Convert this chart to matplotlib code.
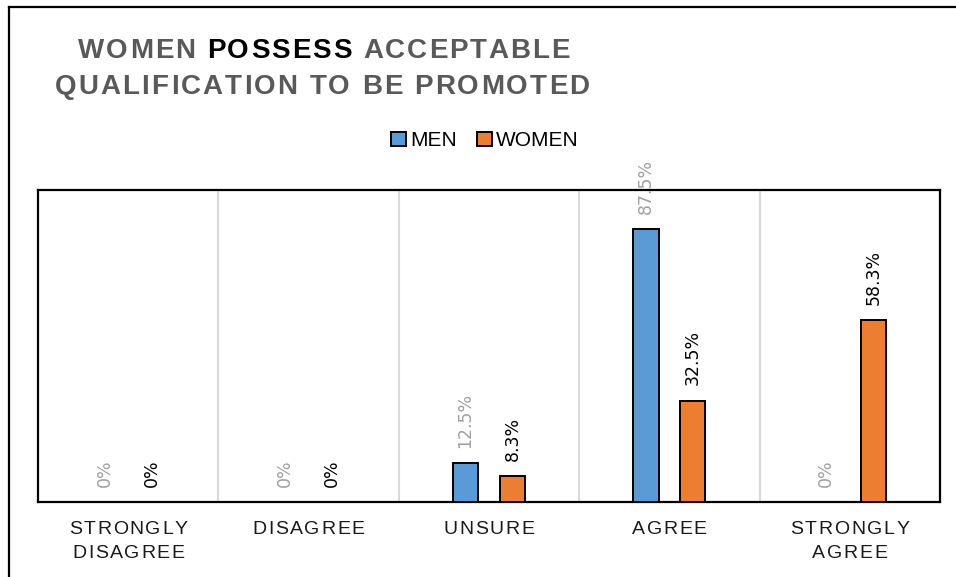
import matplotlib

matplotlib.use("Agg")
import matplotlib.pyplot as plt
import numpy as np
from matplotlib.lines import Line2D
from matplotlib.patches import Patch

CATEGORIES = [["STRONGLY", "DISAGREE"], ["DISAGREE"], ["UNSURE"], ["AGREE"], ["STRONGLY", "AGREE"]]
MEN = [0, 0, 12.5, 87.5, 0]
WOMEN = [0, 0, 8.3, 32.5, 58.3]
MEN_LABELS = ["0%", "0%", "12.5%", "87.5%", "0%"]
WOMEN_LABELS = ["0%", "0%", "8.3%", "32.5%", "58.3%"]

BLUE = "#5B9BD5"
ORANGE = "#ED7D31"
TITLE_GRAY = "#595959"
SANS = ["Liberation Sans", "DejaVu Sans"]

W, H = 956, 577
fig = plt.figure(figsize=(W / 100, H / 100), dpi=100)
renderer = fig.canvas.get_renderer()


def _char_width(ch, **kw):
    if ch == " ":
        return kw["fontsize"] * 0.38
    t = fig.text(0, 0, ch, **kw)
    w = t.get_window_extent(renderer).width
    t.remove()
    return w


def spaced_text(cx, cy, chunks, fontsize, track=None, width=None, **kw):
    """Draw letter-spaced text centred on (cx, cy) in pixels; chunks = [(text, color, weight)]."""
    chars = [(c, col, wt) for txt, col, wt in chunks for c in txt]
    widths = [_char_width(c, fontsize=fontsize, fontweight=wt, **kw) for c, col, wt in chars]
    natural = sum(widths)
    if width is not None:
        track = (width - natural) / (len(chars) - 1)
    total = natural + track * (len(chars) - 1)
    x = cx - total / 2
    for (c, col, wt), w in zip(chars, widths):
        if c != " ":
            fig.text(x / W, 1 - cy / H, c, fontsize=fontsize, fontweight=wt, color=col,
                     ha="left", va="center", **kw)
        x += w + track


# outer frame lines (left and top)
fig.add_artist(Line2D([9 / W, 9 / W], [0, 1 - 7 / H], color="black", lw=1.6))
fig.add_artist(Line2D([9 / W, 1], [1 - 7 / H, 1 - 7 / H], color="black", lw=1.6))

# title
spaced_text(324, 51, [("WOMEN ", TITLE_GRAY, "bold"), ("POSSESS", "black", "bold"),
                      (" ACCEPTABLE", TITLE_GRAY, "bold")],
            fontsize=20, width=492, family=SANS)
spaced_text(322, 87, [("QUALIFICATION TO BE PROMOTED", TITLE_GRAY, "bold")],
            fontsize=20, width=535, family=SANS)

ax = fig.add_axes([38 / W, 1 - 502 / H, 902 / W, 312 / H])
x = np.arange(len(MEN))
off, bw = 0.13, 0.14
ax.bar(x - off, MEN, bw, color=BLUE, edgecolor="black", lw=1.4, zorder=3)
ax.bar(x + off, WOMEN, bw, color=ORANGE, edgecolor="black", lw=1.4, zorder=3)

for xi, v, lab in zip(x, MEN, MEN_LABELS):
    ax.annotate(lab, (xi - off, v), xytext=(0, 11), textcoords="offset points",
                rotation=90, ha="center", va="bottom", fontsize=12.5, color="#A0A0A0",
                annotation_clip=False, zorder=4)
for xi, v, lab in zip(x, WOMEN, WOMEN_LABELS):
    ax.annotate(lab, (xi + off, v), xytext=(0, 11), textcoords="offset points",
                rotation=90, ha="center", va="bottom", fontsize=12.5, color="black",
                annotation_clip=False, zorder=4)

ax.set_xlim(-0.5, len(MEN) - 0.5)
ax.set_ylim(0, 100)
for b in np.arange(0.5, len(MEN) - 0.5):
    ax.axvline(b, color="#D9D9D9", lw=1.5, zorder=1)
ax.set_xticks([])
ax.set_yticks([])
for s in ax.spines.values():
    s.set_color("black")
    s.set_linewidth(1.6)

# category labels
for i, lines in enumerate(CATEGORIES):
    cx = 38 + (i + 0.5) * 902 / len(MEN)
    for j, line in enumerate(lines):
        spaced_text(cx, 529 + j * 24, [(line, "#1a1a1a", "normal")], fontsize=14,
                    track=1.6, family=SANS)

handles = [Patch(facecolor=BLUE, edgecolor="black", lw=1.4, label="MEN"),
           Patch(facecolor=ORANGE, edgecolor="black", lw=1.4, label="WOMEN")]
fig.legend(handles=handles, loc="center", bbox_to_anchor=(485 / W, 1 - 141 / H), ncol=2,
           frameon=False, handlelength=0.7, handleheight=0.7, handletextpad=0.2,
           columnspacing=1.0, prop={"family": SANS, "size": 15})

fig.savefig("out.png", dpi=100)
